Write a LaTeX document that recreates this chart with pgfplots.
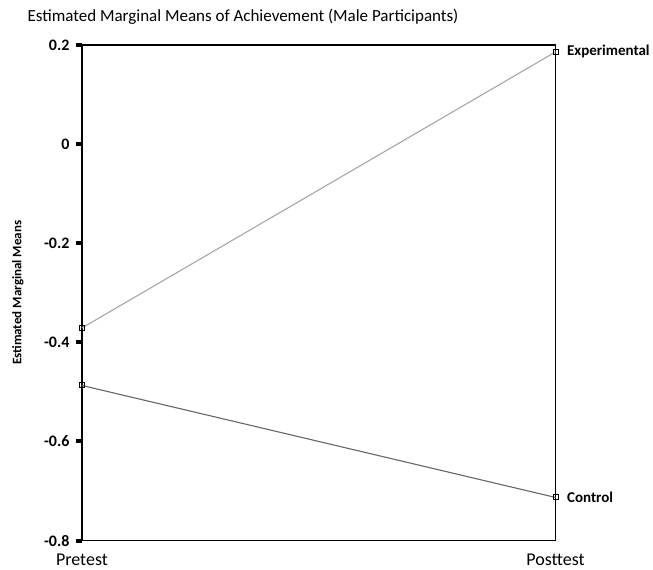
\documentclass[border=0pt]{standalone}
\usepackage{fontspec}
\setmainfont{Carlito}
\usepackage{pgfplots}
\pgfplotsset{compat=1.18}
\begin{document}
\begin{tikzpicture}
\begin{axis}[
  name=ax,
  scale only axis,
  width=474pt, height=496pt,
  xmin=0, xmax=1, ymin=-0.8, ymax=0.2,
  clip=false,
  axis line style={line width=1.6pt},
  xtick={0,1}, xticklabels={Pretest,Posttest},
  xticklabel style={font=\fontsize{18}{18}\selectfont, yshift=-4pt},
  major x tick style={draw=none},
  ytick={-0.8,-0.6,-0.4,-0.2,0,0.2},
  yticklabels={-0.8,-0.6,-0.4,-0.2,0,0.2},
  ytick pos=left,
  tick align=outside,
  major tick length=6pt,
  major y tick style={line width=4pt, black},
  yticklabel style={font=\bfseries\fontsize{16}{16}\selectfont, xshift=-3pt},
  /pgf/number format/assume math mode=true,
  ylabel={Estimated Marginal Means},
  ylabel style={at={(axis description cs:-0.135,0.5)}, anchor=center, font=\bfseries\fontsize{13}{13}\selectfont},
  title={Estimated Marginal Means of Achievement (Male Participants)},
  title style={at={(axis description cs:0.34,1)}, anchor=south, yshift=11pt, font=\fontsize{17}{17}\selectfont},
]
\addplot[color=black!35, line width=1.1pt, mark=square, mark size=2.5pt, mark options={black, fill=white, line width=1pt, solid}]
  coordinates {(0,-0.371) (1,0.186)};
\addplot[color=black!60, line width=1.1pt, mark=square, mark size=2.5pt, mark options={black, fill=white, line width=1pt, solid}]
  coordinates {(0,-0.487) (1,-0.713)};
\node[anchor=west, font=\bfseries\fontsize{15}{15}\selectfont] at (axis cs:1,0.186) [xshift=8pt] {Experimental};
\node[anchor=west, font=\bfseries\fontsize{15}{15}\selectfont] at (axis cs:1,-0.713) [xshift=8pt] {Control};
\end{axis}
\path (ax.south west) ++(-82pt,-28pt) rectangle ++(653pt,569pt);
\end{tikzpicture}
\end{document}
